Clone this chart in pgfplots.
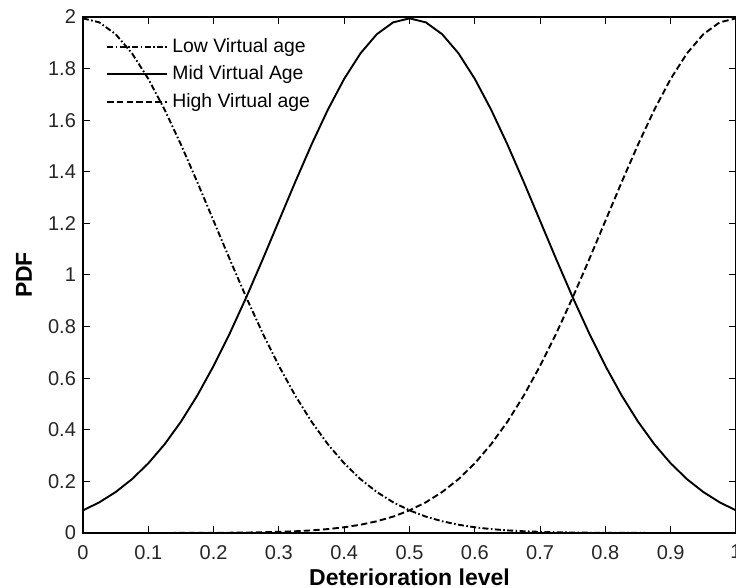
\documentclass[border=0pt]{standalone}
\usepackage{pgfplots}
\pgfplotsset{compat=1.18}
\usepackage{fontspec}
\setmainfont{Liberation Sans}
\usetikzlibrary{calc}
\begin{document}
\begin{tikzpicture}
\begin{axis}[name=ax,
  scale only axis, width=326.5pt, height=258pt,
  xmin=0, xmax=1, ymin=0, ymax=2,
  xtick={0,0.1,...,1.01}, ytick={0,0.2,...,2.01},
  xticklabels={0,0.1,0.2,0.3,0.4,0.5,0.6,0.7,0.8,0.9,1},
  yticklabels={0,0.2,0.4,0.6,0.8,1,1.2,1.4,1.6,1.8,2},
  tick align=inside, major tick length=3.5pt,
  tick style={line width=0.5pt, black},
  axis line style={line width=0.6pt},
  ticklabel style={font=\fontsize{10}{12}\selectfont, text=black!85},
  xticklabel style={yshift=-2.5pt},
  /pgf/number format/assume math mode=true,
  xlabel={\textbf{Deterioration level}},
  ylabel={\textbf{PDF}},
  xlabel style={font=\fontsize{11.5}{13}\selectfont, at={(axis description cs:0.5,0)}, anchor=north, yshift=-14.5pt},
  ylabel style={font=\fontsize{11.5}{13}\selectfont, at={([xshift=-29.5pt]axis description cs:0,0.5)}, anchor=center},
  legend style={draw=none, fill=none, at={([xshift=4pt,yshift=-3.5pt]axis description cs:0.02,0.985)}, anchor=north west,
    font=\fontsize{9.7}{11}\selectfont, row sep=1.2pt, inner sep=1pt},
  legend cell align=left,
  legend image code/.code={\draw[#1] plot coordinates {(0pt,0pt) (30pt,0pt)};},
]
\addplot[black, line width=0.95pt, dash pattern=on 3pt off 1.2pt on 0.8pt off 1.2pt] coordinates {
(0,1.9947)(0.025,1.9792)(0.05,1.9333)(0.075,1.8593)(0.1,1.7603)(0.125,1.6408)(0.15,1.5057)(0.175,1.3603)(0.2,1.2099)(0.225,1.0594)(0.25,0.9132)(0.275,0.7750)(0.3,0.6476)(0.325,0.5327)(0.35,0.4314)(0.375,0.3439)(0.4,0.2700)(0.425,0.2086)(0.45,0.1587)(0.475,0.1189)(0.5,0.0876)(0.525,0.0636)(0.55,0.0455)(0.575,0.0320)(0.6,0.0222)(0.625,0.0151)(0.65,0.0101)(0.675,0.0067)(0.7,0.0044)(0.725,0.0028)(0.75,0.0018)(0.775,0.0011)(0.8,0.0007)(0.825,0.0004)(0.85,0.0002)(0.875,0.0001)(0.9,0.0001)(0.95,0)(1,0)};
\addlegendentry{Low Virtual age}
\addplot[black, line width=0.95pt] coordinates {
(0,0.0876)(0.025,0.1189)(0.05,0.1587)(0.075,0.2086)(0.1,0.2700)(0.125,0.3439)(0.15,0.4314)(0.175,0.5327)(0.2,0.6476)(0.225,0.7750)(0.25,0.9132)(0.275,1.0594)(0.3,1.2099)(0.325,1.3603)(0.35,1.5057)(0.375,1.6408)(0.4,1.7603)(0.425,1.8593)(0.45,1.9333)(0.475,1.9792)(0.5,1.9947)(0.525,1.9792)(0.55,1.9333)(0.575,1.8593)(0.6,1.7603)(0.625,1.6408)(0.65,1.5057)(0.675,1.3603)(0.7,1.2099)(0.725,1.0594)(0.75,0.9132)(0.775,0.7750)(0.8,0.6476)(0.825,0.5327)(0.85,0.4314)(0.875,0.3439)(0.9,0.2700)(0.925,0.2086)(0.95,0.1587)(0.975,0.1189)(1,0.0876)};
\addlegendentry{Mid Virtual Age}
\addplot[black, line width=0.95pt, dash pattern=on 3.2pt off 1.6pt] coordinates {
(0,0)(0.05,0)(0.1,0.0001)(0.125,0.0001)(0.15,0.0002)(0.175,0.0004)(0.2,0.0007)(0.225,0.0011)(0.25,0.0018)(0.275,0.0028)(0.3,0.0044)(0.325,0.0067)(0.35,0.0101)(0.375,0.0151)(0.4,0.0222)(0.425,0.0320)(0.45,0.0455)(0.475,0.0636)(0.5,0.0876)(0.525,0.1189)(0.55,0.1587)(0.575,0.2086)(0.6,0.2700)(0.625,0.3439)(0.65,0.4314)(0.675,0.5327)(0.7,0.6476)(0.725,0.7750)(0.75,0.9132)(0.775,1.0594)(0.8,1.2099)(0.825,1.3603)(0.85,1.5057)(0.875,1.6408)(0.9,1.7603)(0.925,1.8593)(0.95,1.9333)(0.975,1.9792)(1,1.9947)};
\addlegendentry{High Virtual age}
\end{axis}
\pgfresetboundingbox
\path[use as bounding box] ($(ax.south west)+(-41.5pt,-27.5pt)$) rectangle ($(ax.north east)+(0pt,8.5pt)$);
\end{tikzpicture}
\end{document}
